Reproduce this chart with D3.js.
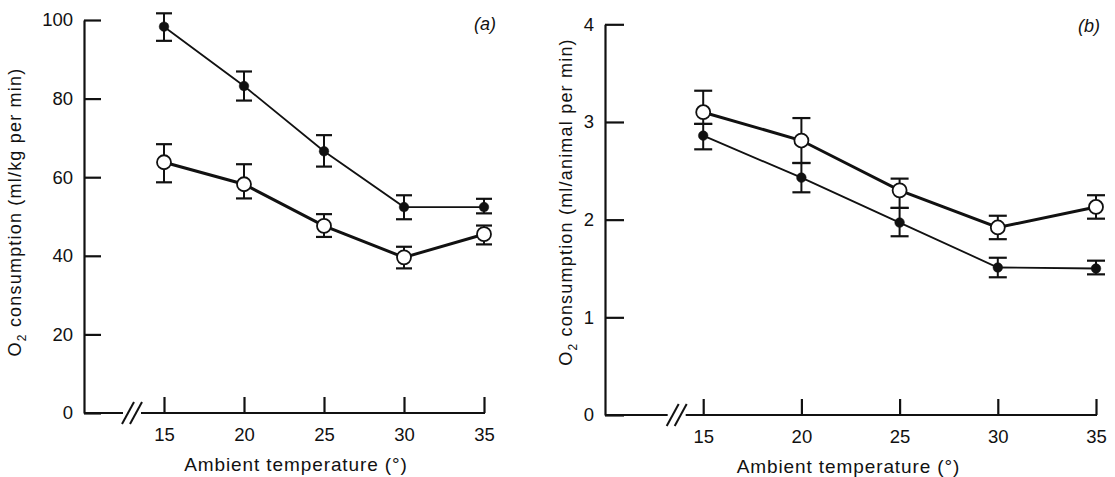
<!DOCTYPE html>
<html>
<head>
<meta charset="utf-8">
<script src="https://cdn.jsdelivr.net/npm/d3@7"></script>
<style>
  body { margin: 0; background: #fff; }
  svg { display: block; }
  text { font-family: "Liberation Sans", Arial, sans-serif; fill: #111; }
</style>
</head>
<body>
<svg width="1115" height="477"></svg>
<script>
// ambient temperature (deg)
var temps = [15, 20, 25, 30, 35];

// panel (a): ml/kg per min
var aFilled   = [98.3, 83.2, 66.6, 52.4, 52.4];
var aFilledLo = [94.7, 79.5, 62.7, 49.3, 50.8];
var aFilledHi = [101.7, 86.9, 70.7, 55.4, 54.5];
var aOpen     = [63.8, 58.2, 47.6, 39.6, 45.5];
var aOpenLo   = [58.7, 54.6, 44.8, 36.8, 42.9];
var aOpenHi   = [68.4, 63.3, 50.6, 42.3, 47.7];
var aTicks = [0, 20, 40, 60, 80, 100];

// panel (b): ml/animal per min
var bFilled   = [2.86, 2.43, 1.97, 1.51, 1.50];
var bFilledLo = [2.72, 2.28, 1.83, 1.41, 1.44];
var bFilledHi = [2.98, 2.58, 2.12, 1.61, 1.58];
var bOpen     = [3.10, 2.81, 2.30, 1.92, 2.13];
var bOpenLo   = [2.98, 2.58, 2.12, 1.80, 2.01];
var bOpenHi   = [3.32, 3.04, 2.42, 2.04, 2.25];
var bTicks = [0, 1, 2, 3, 4];

var xTicks = [15, 20, 25, 30, 35];

var svg = d3.select("svg");

function series(vals, lo, hi) {
    return temps.map(function(t, i) {
        return { t: t, v: vals[i], lo: lo[i], hi: hi[i] };
    });
}

function drawPanel(opt) {
    var x = d3.scaleLinear().domain([10, 35]).range(opt.xr);
    var y = d3.scaleLinear().domain(opt.yd).range(opt.yr);
    var g = svg.append("g");
    var y0 = y(0);

    // y axis, ticks pointing inward
    var ya = g.append("g")
        .attr("transform", "translate(" + x(10) + ",0)")
        .call(d3.axisLeft(y).tickValues(opt.yTicks).tickFormat(d3.format("d"))
            .tickSize(-opt.ytick).tickSizeOuter(0).tickPadding(11));
    ya.attr("font-size", 18.5).attr("font-family", null);
    ya.select(".domain").attr("stroke", "#111").attr("stroke-width", 2.2);
    ya.selectAll(".tick line").attr("stroke", "#111").attr("stroke-width", 2.2);

    // x axis, ticks pointing up
    var xa = g.append("g")
        .attr("transform", "translate(0," + y0 + ")")
        .call(d3.axisBottom(x).tickValues(xTicks).tickSize(-16).tickSizeOuter(0).tickPadding(15));
    xa.attr("font-size", 18.5).attr("font-family", null);
    xa.select(".domain").remove();
    xa.selectAll(".tick line").attr("stroke", "#111").attr("stroke-width", 2.2);

    // broken baseline
    var bx = x(opt.brk);
    g.append("line").attr("x1", x(10)).attr("x2", bx - 9).attr("y1", y0).attr("y2", y0)
        .attr("stroke", "#111").attr("stroke-width", 2.2);
    g.append("line").attr("x1", bx + 9).attr("x2", x(35) + 1).attr("y1", y0).attr("y2", y0)
        .attr("stroke", "#111").attr("stroke-width", 2.2);
    [-4, 4].forEach(function(d) {
        g.append("line")
            .attr("x1", bx + d - 6).attr("y1", y0 + 11)
            .attr("x2", bx + d + 6).attr("y2", y0 - 11)
            .attr("stroke", "#111").attr("stroke-width", 2);
    });

    var line = d3.line().x(function(d) { return x(d.t); }).y(function(d) { return y(d.v); });

    opt.sets.forEach(function(s) {
        var eb = g.append("g");
        s.data.forEach(function(d) {
            var cx = x(d.t);
            eb.append("line").attr("x1", cx).attr("x2", cx).attr("y1", y(d.lo)).attr("y2", y(d.hi))
                .attr("stroke", "#111").attr("stroke-width", 2);
            [d.lo, d.hi].forEach(function(v) {
                eb.append("line").attr("x1", cx - opt.cap).attr("x2", cx + opt.cap)
                    .attr("y1", y(v)).attr("y2", y(v))
                    .attr("stroke", "#111").attr("stroke-width", 2.2);
            });
        });
    });

    opt.sets.forEach(function(s) {
        g.append("path").datum(s.data)
            .attr("d", line)
            .attr("fill", "none")
            .attr("stroke", "#111")
            .attr("stroke-width", s.open ? 3 : 1.8);
    });

    opt.sets.forEach(function(s) {
        g.selectAll(null).data(s.data).enter().append("circle")
            .attr("cx", function(d) { return x(d.t); })
            .attr("cy", function(d) { return y(d.v); })
            .attr("r", s.open ? 7 : 4.8)
            .attr("fill", s.open ? "#fff" : "#111")
            .attr("stroke", "#111")
            .attr("stroke-width", s.open ? 1.8 : 0.5);
    });

    // titles
    g.append("text")
        .attr("x", (opt.xr[0] + opt.xr[1]) / 2 + opt.xtOff)
        .attr("y", y0 + 58)
        .attr("text-anchor", "middle")
        .attr("font-size", 19)
        .style("letter-spacing", "0.9px")
        .text("Ambient temperature (°)");

    var yt = g.append("text")
        .attr("transform", "translate(" + opt.ytX + "," + opt.ytY + ") rotate(-90)")
        .attr("text-anchor", "middle")
        .attr("font-size", 18)
        .style("letter-spacing", "1.2px");
    yt.append("tspan").text("O");
    yt.append("tspan").attr("font-size", 12).attr("dy", 5).text("2");
    yt.append("tspan").attr("dy", -5).text(" consumption (" + opt.unit + ")");

    g.append("text")
        .attr("x", opt.lab[0]).attr("y", opt.lab[1])
        .attr("text-anchor", "middle")
        .attr("font-size", 18)
        .attr("font-style", "italic")
        .text(opt.label);
}

drawPanel({
    xr: [84, 484], yd: [0, 100], yr: [413, 20], yTicks: aTicks, ytick: 17, brk: 13, cap: 8,
    unit: "ml/kg per min", ytX: 21, ytY: 212, xtOff: 12, label: "(a)", lab: [485, 30],
    sets: [
        { data: series(aFilled, aFilledLo, aFilledHi), open: false },
        { data: series(aOpen, aOpenLo, aOpenHi), open: true }
    ]
});

drawPanel({
    xr: [605, 1096], yd: [0, 4], yr: [415, 24.3], yTicks: bTicks, ytick: 19, brk: 13.65, cap: 9,
    unit: "ml/animal per min", ytX: 572, ytY: 202, xtOff: -2, label: "(b)", lab: [1089, 32],
    sets: [
        { data: series(bFilled, bFilledLo, bFilledHi), open: false },
        { data: series(bOpen, bOpenLo, bOpenHi), open: true }
    ]
});
</script>
</body>
</html>
